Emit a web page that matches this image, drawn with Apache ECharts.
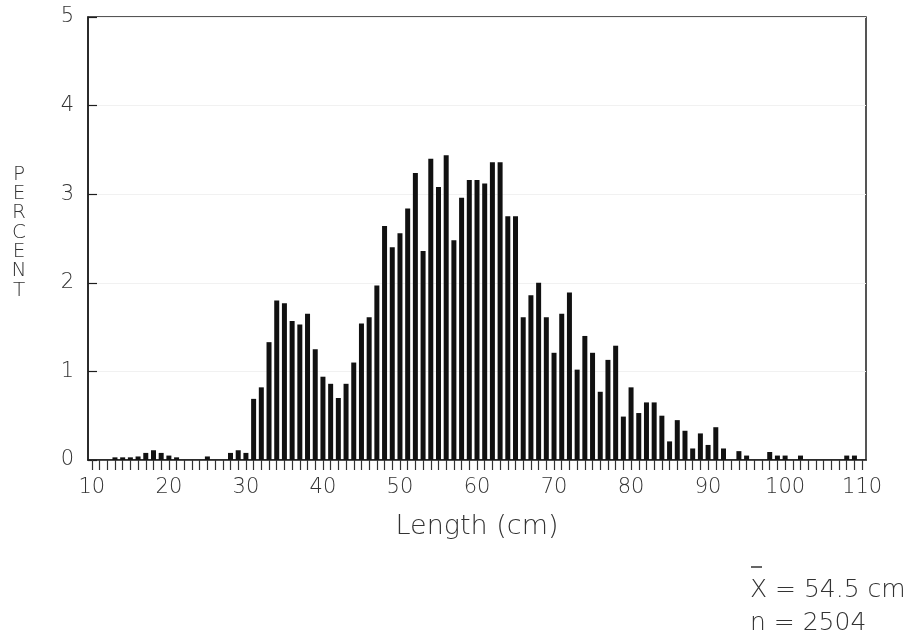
<!DOCTYPE html>
<html>
<head>
<meta charset="utf-8">
<script src="https://cdn.jsdelivr.net/npm/echarts@6/dist/echarts.min.js"></script>
<style>
html,body{margin:0;padding:0;background:#fff;}
#chart{width:909px;height:637px;}
</style>
</head>
<body>
<div id="chart"></div>
<script>
// Length classes (cm)
const lengths = [];
for (let L = 10; L <= 110; L++) lengths.push(String(L));

// Percent of fish in each 1-cm class, 10 .. 110 cm
const percents10to30 = [0, 0, 0, 0.03, 0.03, 0.03, 0.04, 0.08, 0.11, 0.08, 0.05, 0.03, 0, 0, 0, 0.04, 0, 0, 0.08, 0.11, 0.08];
const percents31to50 = [0.69, 0.82, 1.33, 1.80, 1.77, 1.57, 1.53, 1.65, 1.25, 0.94, 0.86, 0.70, 0.86, 1.10, 1.54, 1.61, 1.97, 2.64, 2.40, 2.56];
const percents51to70 = [2.84, 3.24, 2.36, 3.40, 3.08, 3.44, 2.48, 2.96, 3.16, 3.16, 3.12, 3.36, 3.36, 2.75, 2.75, 1.61, 1.86, 2.00, 1.61, 1.21];
const percents71to90 = [1.65, 1.89, 1.02, 1.40, 1.21, 0.77, 1.13, 1.29, 0.49, 0.82, 0.53, 0.65, 0.65, 0.50, 0.21, 0.45, 0.33, 0.13, 0.30, 0.17];
const percents91to110 = [0.37, 0.13, 0, 0.10, 0.05, 0, 0, 0.09, 0.05, 0.05, 0, 0.05, 0, 0, 0, 0, 0, 0.05, 0.05, 0];
const percents = [].concat(percents10to30, percents31to50, percents51to70, percents71to90, percents91to110);

const yTicks = [0, 1, 2, 3, 4, 5];
const xTitle = 'Length (cm)';
const yTitle = 'PERCENT';
const meanText = 'X = 54.5 cm';
const nText = 'n = 2504';

const FONT = 'DejaVu Sans';
const TXT = '#333333';
const W = 200;

const chart = echarts.init(document.getElementById('chart'), null, {renderer: 'canvas'});
chart.setOption({
  animation: false,
  backgroundColor: '#ffffff',
  grid: {
    left: 88, right: 43, top: 17, bottom: 177,
    show: true, borderColor: '#1e1e1e', borderWidth: 1.5, backgroundColor: 'transparent'
  },
  xAxis: {
    type: 'category',
    data: lengths,
    boundaryGap: true,
    axisLine: {show: true, lineStyle: {color: '#1e1e1e', width: 1.5}},
    axisTick: {show: true, interval: 0, alignWithLabel: true, inside: false, length: 10, lineStyle: {color: '#333', width: 1.2}},
    axisLabel: {interval: 9, margin: 17, fontFamily: FONT, fontWeight: W, fontSize: 21, color: TXT},
    splitLine: {show: false}
  },
  yAxis: {
    type: 'value',
    min: yTicks[0], max: yTicks[yTicks.length - 1], interval: 1,
    axisLine: {show: true, lineStyle: {color: '#1e1e1e', width: 1.5}},
    axisTick: {show: true, inside: true, length: 9, lineStyle: {color: '#1e1e1e', width: 1.2}},
    axisLabel: {margin: 14, fontFamily: FONT, fontWeight: W, fontSize: 21, color: TXT},
    splitLine: {show: true, lineStyle: {color: '#f1f1f1', width: 1}}
  },
  series: [{
    type: 'bar',
    data: percents,
    barWidth: 5,
    itemStyle: {color: '#111111'}
  }],
  graphic: [
    {
      type: 'text', x: 19, y: 165,
      style: {text: yTitle.split('').join('\n'), fontFamily: FONT, fontWeight: W, fontSize: 20, lineHeight: 19.3, fill: TXT, align: 'center'}
    },
    {
      type: 'text', x: 477, y: 527,
      style: {text: xTitle, fontFamily: FONT, fontWeight: W, fontSize: 27, fill: TXT, align: 'center', verticalAlign: 'middle'}
    },
    {
      type: 'line', shape: {x1: 751, y1: 567, x2: 762, y2: 567},
      style: {stroke: TXT, lineWidth: 1.5}
    },
    {
      type: 'text', x: 750, y: 590,
      style: {text: meanText, fontFamily: FONT, fontWeight: W, fontSize: 25, fill: TXT, align: 'left', verticalAlign: 'middle'}
    },
    {
      type: 'text', x: 750, y: 623,
      style: {text: nText, fontFamily: FONT, fontWeight: W, fontSize: 25, fill: TXT, align: 'left', verticalAlign: 'middle'}
    }
  ]
});
</script>
</body>
</html>
